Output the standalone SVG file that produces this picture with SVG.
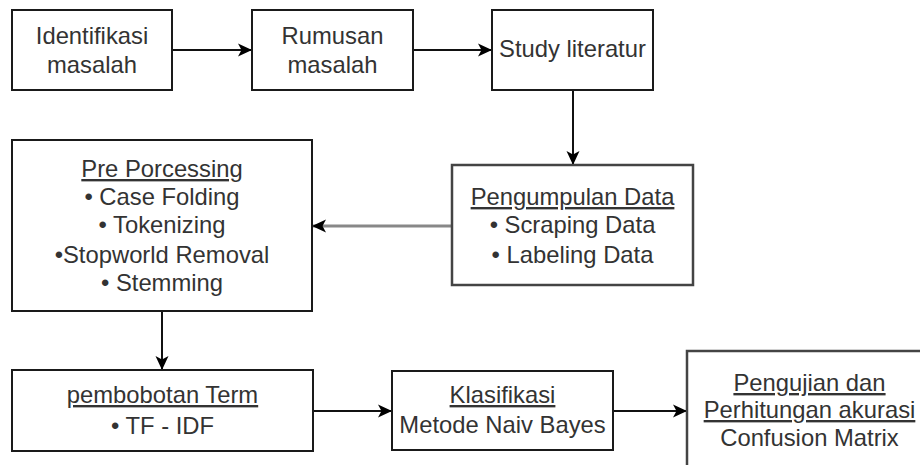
<svg xmlns="http://www.w3.org/2000/svg" width="920" height="465" viewBox="0 0 920 465">
<style>
.box{fill:#fff;stroke:#1a1a1a;stroke-width:2}
.box2{fill:#fff;stroke:#444;stroke-width:2.5}
.t{font-family:"Liberation Sans",Arial,sans-serif;font-size:23.8px;fill:#333;text-anchor:middle}
.u{text-decoration:underline}
.c{fill:none;stroke:#111;stroke-width:2}
.cg{fill:none;stroke:#888;stroke-width:3}
</style>
<defs>
<marker id="ah" markerUnits="userSpaceOnUse" markerWidth="16" markerHeight="16" refX="13" refY="8" orient="auto">
<path d="M0,1.5 L14,8 L0,14.5 L3.5,8 z" fill="#000"/>
</marker>
</defs>
<rect width="920" height="465" fill="#fff"/>
<g id="connectors">
<line class="c" x1="172" y1="50" x2="251" y2="50" marker-end="url(#ah)"/>
<line class="c" x1="413" y1="50" x2="491" y2="50" marker-end="url(#ah)"/>
<line class="c" x1="573" y1="90" x2="573" y2="164" marker-end="url(#ah)"/>
<line class="cg" x1="452" y1="226" x2="313" y2="226" marker-end="url(#ah)"/>
<line class="c" x1="162" y1="311" x2="162" y2="369" marker-end="url(#ah)"/>
<line class="c" x1="313" y1="411" x2="391" y2="411" marker-end="url(#ah)"/>
<line class="c" x1="613" y1="411" x2="686" y2="411" marker-end="url(#ah)"/>
</g>
<g id="identifikasi">
<rect class="box" x="12" y="10" width="160" height="80"/>
<text class="t" x="92" y="44">Identifikasi</text>
<text class="t" x="92" y="73">masalah</text>
</g>
<g id="rumusan">
<rect class="box" x="252" y="10" width="161" height="80"/>
<text class="t" x="332.5" y="44">Rumusan</text>
<text class="t" x="332.5" y="73">masalah</text>
</g>
<g id="study">
<rect class="box" x="492" y="10" width="161" height="80"/>
<text class="t" x="572.5" y="57">Study literatur</text>
</g>
<g id="pengumpulan">
<rect class="box2" x="452" y="165" width="241" height="120"/>
<text class="t u" x="572.5" y="205">Pengumpulan Data</text>
<text class="t" x="572.5" y="233">• Scraping Data</text>
<text class="t" x="572.5" y="263">• Labeling Data</text>
</g>
<g id="preprocessing">
<rect class="box" x="12" y="140" width="300" height="171"/>
<text class="t u" x="162" y="177">Pre Porcessing</text>
<text class="t" x="162" y="205">• Case Folding</text>
<text class="t" x="162" y="233">• Tokenizing</text>
<text class="t" x="162" y="263">•Stopworld Removal</text>
<text class="t" x="162" y="291">• Stemming</text>
</g>
<g id="pembobotan">
<rect class="box" x="12" y="370" width="301" height="81"/>
<text class="t u" x="162.5" y="403">pembobotan Term</text>
<text class="t" x="162.5" y="434">• TF - IDF</text>
</g>
<g id="klasifikasi">
<rect class="box" x="392" y="371" width="221" height="79"/>
<text class="t u" x="502.5" y="403">Klasifikasi</text>
<text class="t" x="502.5" y="433">Metode Naiv Bayes</text>
</g>
<g id="pengujian">
<rect class="box2" x="687" y="351" width="240" height="120"/>
<text class="t u" x="809.5" y="391">Pengujian dan</text>
<text class="t u" x="809.5" y="418">Perhitungan akurasi</text>
<text class="t" x="809.5" y="446">Confusion Matrix</text>
</g>
</svg>
